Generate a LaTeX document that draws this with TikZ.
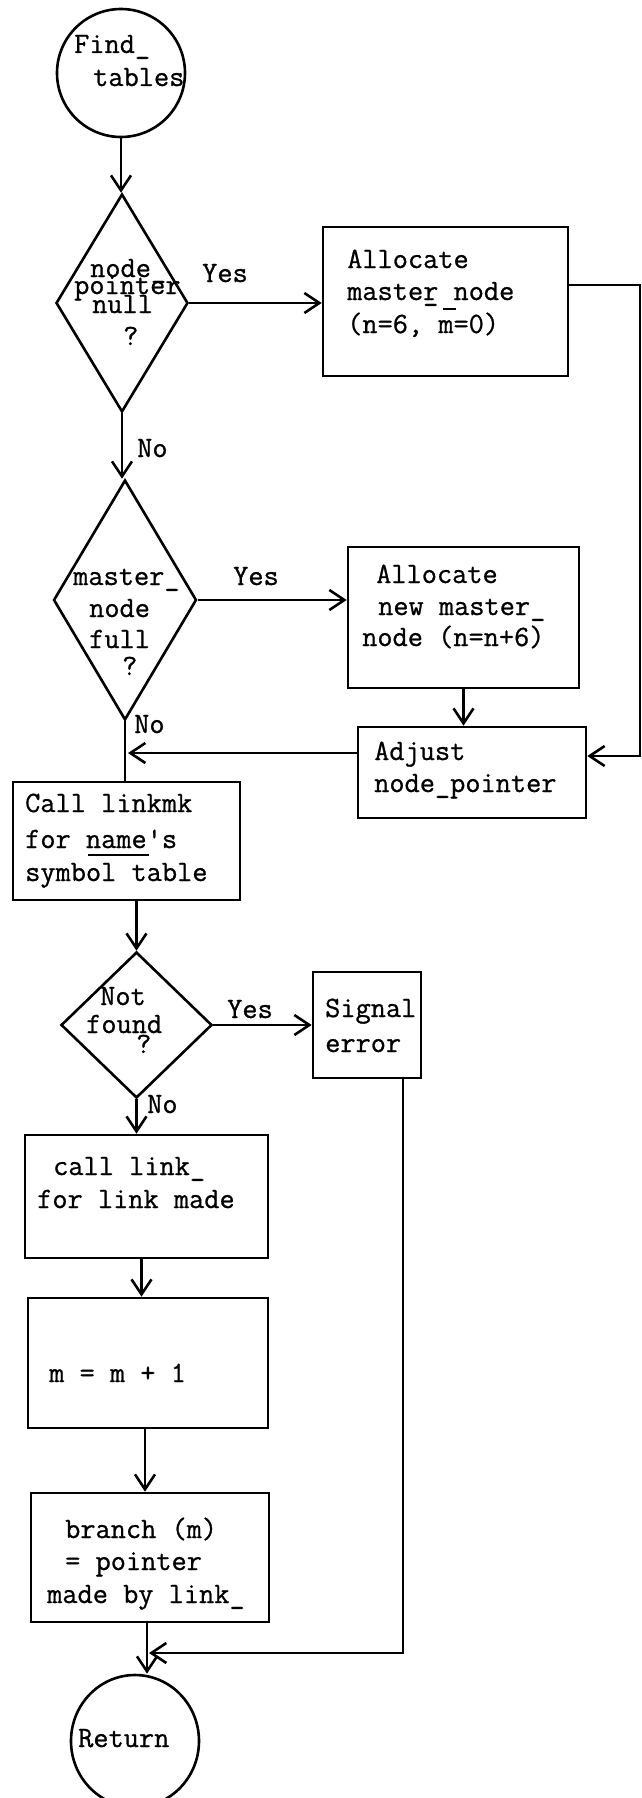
\documentclass[tikz,border=0pt]{standalone}
\usepackage{fontspec}
\usetikzlibrary{arrows.meta,shapes.geometric}
\newfontfamily\twfam{Latin Modern Mono}[FakeBold=0.8]
\newcommand\twfont{\twfam\fontsize{29.5}{32}\selectfont}
\begin{document}
\begin{tikzpicture}[x=1pt,y=-1pt,
  lw/.style={line width=2.6pt},
  boxn/.style={draw,lw,rectangle,inner sep=0pt},
  dia/.style={draw,lw,diamond,inner sep=0pt},
  circ/.style={draw,lw,circle,inner sep=0pt},
  ell/.style={draw,lw,ellipse,inner sep=0pt},
  txt/.style={anchor=base west,inner sep=0pt,font=\twfont},
  arr/.style={lw,-{Straight Barb[length=15pt,width=20pt]}},
  con/.style={lw}
]
\useasboundingbox[fill=white] (0,0) rectangle (641,1798);

% start
\node[circ,minimum size=128pt] (start) at (121,73) {};
\node[txt] (ts1) at (74,53) {Find\_};
\node[txt] (ts2) at (93,86) {tables};

% diamond 1
\node[dia,minimum width=132pt,minimum height=218pt] (d1) at (122,303) {};
\node[txt] (td1a) at (90,277) {node\_};
\node[txt] (td1b) at (74,294) {pointer};
\node[txt] (td1c) at (92,313) {null};
\node[txt] (td1d) at (123,345) {?};
\node[txt] (y1) at (202,282) {Yes};
\node[txt] (n1) at (137,457) {No};

% box 1
\node[boxn,minimum width=245pt,minimum height=149pt] (box1) at (445.5,301.5) {};
\node[txt] (tb1a) at (347,268) {Allocate};
\node[txt] (tb1b) at (347,300) {maste\rlap{\_}r node};
\node[txt] (tb1c) at (347,333) {(n=6, m=0)};
\draw[lw] (443,309) -- (456,309);

% diamond 2
\node[dia,minimum width=143pt,minimum height=240pt] (d2) at (125,600) {};
\node[txt] (td2a) at (73,585) {master\_};
\node[txt] (td2b) at (89,617) {node};
\node[txt] (td2c) at (89,648) {full};
\node[txt] (td2d) at (122,675) {?};
\node[txt] (y2) at (233,585) {Yes};
\node[txt] (n2) at (134,733) {No};

% box 2
\node[boxn,minimum width=231pt,minimum height=141pt] (box2) at (463.5,617.5) {};
\node[txt] (tb2a) at (376,583) {Allocate};
\node[txt] (tb2b) at (378,615) {new master\_};
\node[txt] (tb2c) at (362,646) {node (n=n+6)};

% adjust
\node[boxn,minimum width=228pt,minimum height=91pt] (adj) at (472,772.5) {};
\node[txt] (tadja) at (374,760) {Adjust};
\node[txt] (tadjb) at (374,792) {node\_pointer};

% call linkmk
\node[boxn,minimum width=227pt,minimum height=118pt] (call) at (126.5,841) {};
\node[txt] (tca) at (25,812) {Call linkmk};
\node[txt] (tcb) at (25,848) {for name's};
\draw[lw] (88,855) -- (149,855);
\node[txt] (tcc) at (25,881) {symbol table};

% diamond 3
\node[dia,minimum width=151pt,minimum height=146pt] (d3) at (136.5,1025) {};
\node[txt] (td3a) at (100,1005) {Not};
\node[txt] (td3b) at (86,1033) {found};
\node[txt] (td3c) at (136,1053) {?};
\node[txt] (y3) at (227,1018) {Yes};
\node[txt] (n3) at (147,1113) {No};

% signal
\node[boxn,minimum width=108pt,minimum height=106pt] (sig) at (367,1025) {};
\node[txt] (tsga) at (325,1017) {Signal};
\node[txt] (tsgb) at (325,1052) {error};

% call link_
\node[boxn,minimum width=243pt,minimum height=123pt] (lnk) at (146.5,1196.5) {};
\node[txt] (tla) at (53,1175) {call link\_};
\node[txt] (tlb) at (37,1208) {for link made};

% m = m + 1
\node[boxn,minimum width=240pt,minimum height=130pt] (mbox) at (148,1363) {};
\node[txt] (tm) at (49,1382) {m = m + 1};

% branch
\node[boxn,minimum width=238pt,minimum height=129pt] (br) at (150,1557.5) {};
\node[txt] (tbra) at (65,1538) {branch (m)};
\node[txt] (tbrb) at (65,1570) {= pointer};
\node[txt] (tbrc) at (47,1603) {made by link\_};

% return
\node[ell,minimum width=128pt,minimum height=132pt] (ret) at (135,1741) {};
\node[txt] (tret) at (78,1747) {Return};

% helper coordinates
\coordinate (r1) at (640,285);
\coordinate (r2) at (640,756);
\coordinate (j1) at (128,753);
\coordinate (s2) at (403,1653);
\coordinate (lk) at ([xshift=-5pt]lnk.south);
\coordinate (mb) at ([xshift=-3pt]mbox.south);
\coordinate (bl) at ([xshift=-3pt]br.south);

% connectors
\draw[arr] (start.south) -- (start.south |- d1.north);
\draw[arr] (d1.east) -- (d1.east -| box1.west);
\draw[arr] (box1.east |- r1) -- (r1) -- (r2) -- (adj.east |- r2);
\draw[arr] (d1.south) -- (d1.south |- d2.north);
\draw[arr] (d2.east) -- (d2.east -| box2.west);
\draw[arr] (box2.south) -- (box2.south |- adj.north);
\draw[arr] (adj.west |- j1) -- (j1);
\draw[con] (d2.south) -- (d2.south |- call.north);
\draw[arr] (call.south -| d3.north) -- (d3.north);
\draw[arr] (d3.east) -- (sig.west);
\draw[arr] (d3.south) -- (d3.south |- lnk.north);
\draw[arr] (lk) -- (lk |- mbox.north);
\draw[arr] (mb) -- (mb |- br.north);
\draw[arr] (bl) -- (bl |- ret.north);
\draw[arr] (sig.south -| s2) -- (s2) -- ([xshift=2pt]s2 -| bl);
\end{tikzpicture}
\end{document}
